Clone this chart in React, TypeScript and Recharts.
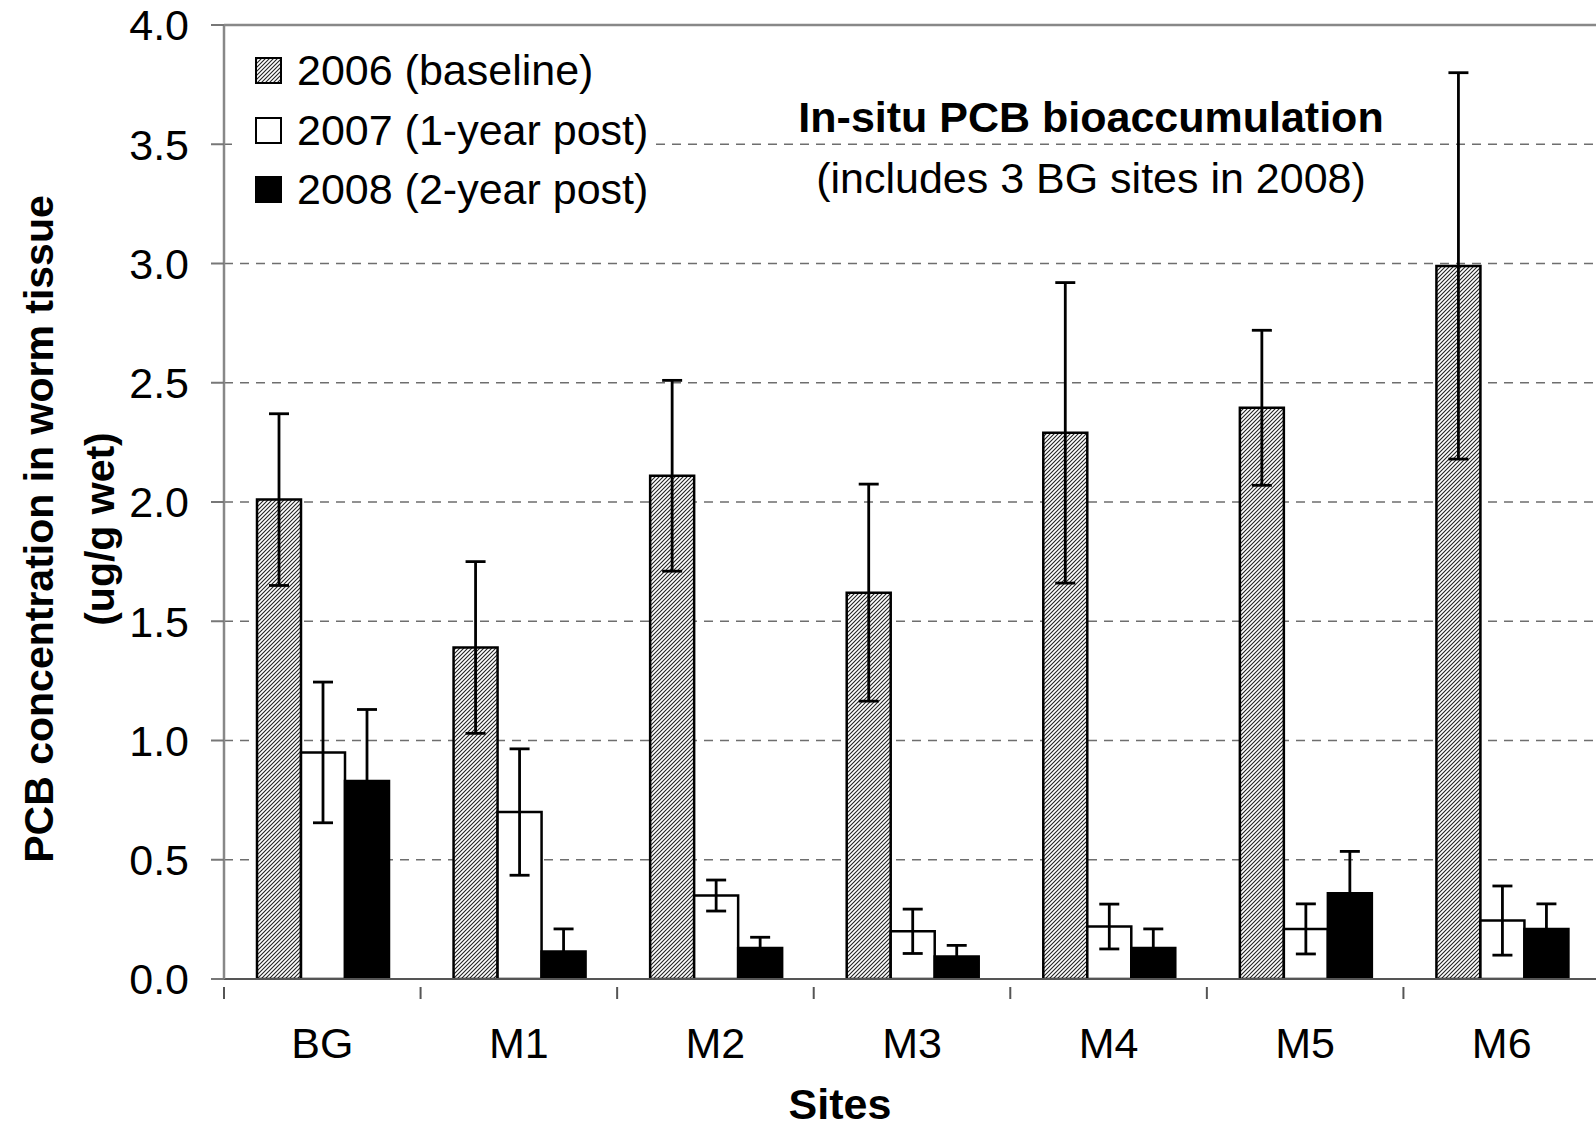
import { BarChart, Bar, XAxis, YAxis, CartesianGrid, ErrorBar, ReferenceLine } from 'recharts';

const sites = ['BG', 'M1', 'M2', 'M3', 'M4', 'M5', 'M6'];
const mean2006 = [2.01, 1.39, 2.11, 1.62, 2.29, 2.395, 2.99];
const err2006 = [0.36, 0.36, 0.40, 0.455, 0.63, 0.325, 0.81];
const mean2007 = [0.95, 0.70, 0.35, 0.20, 0.22, 0.21, 0.245];
const err2007 = [0.295, 0.265, 0.065, 0.093, 0.094, 0.105, 0.145];
const mean2008 = [0.83, 0.115, 0.13, 0.094, 0.13, 0.36, 0.21];
const err2008 = [0.30, 0.095, 0.045, 0.047, 0.08, 0.175, 0.105];
const yTicks = [0, 0.5, 1, 1.5, 2, 2.5, 3, 3.5, 4];

const legendItems = [
  { label: '2006 (baseline)', fill: 'url(#hatch)' },
  { label: '2007 (1-year post)', fill: '#ffffff' },
  { label: '2008 (2-year post)', fill: '#000000' },
];

const data = sites.map((site, i) => ({
  site,
  y2006: mean2006[i],
  e2006: err2006[i],
  y2007: mean2007[i],
  e2007: err2007[i],
  y2008: mean2008[i],
  e2008: err2008[i],
}));

const FONT = '"Liberation Sans", Arial, sans-serif';
const CHART_W = 1600;
const AXIS_W = 224;
const BAND = (CHART_W - AXIS_W) / sites.length;

function SiteTick(props: any) {
  const { x, y, payload, index } = props;
  const left = x - BAND / 2;
  return (
    <g>
      <line x1={left} y1={y} x2={left} y2={y + 12} stroke="#555" strokeWidth={2} />
      {index === sites.length - 1 && (
        <line x1={x + BAND / 2} y1={y} x2={x + BAND / 2} y2={y + 12} stroke="#555" strokeWidth={2} />
      )}
      <text x={x} y={y + 56} textAnchor="middle" dominantBaseline="central" fontSize={43} fontFamily={FONT} fill="#000">
        {payload.value}
      </text>
    </g>
  );
}

function YLabel() {
  return (
    <g fontFamily={FONT} fontWeight="bold" fontSize={41} fill="#000">
      <text x={39} y={529} textAnchor="middle" dominantBaseline="central" transform="rotate(-90 39 529)">
        PCB concentration in worm tissue
      </text>
      <text x={100} y={529} textAnchor="middle" dominantBaseline="central" transform="rotate(-90 100 529)">
        (ug/g wet)
      </text>
    </g>
  );
}

function XLabel() {
  return (
    <text x={840} y={1104} textAnchor="middle" dominantBaseline="central" fontFamily={FONT} fontWeight="bold" fontSize={43} fill="#000">
      Sites
    </text>
  );
}

function Swatch({ fill }: { fill: string }) {
  return (
    <svg width={27} height={27} style={{ display: 'block' }}>
      <defs>
        <pattern id="hatchLegend" width="4" height="4" patternUnits="userSpaceOnUse">
          <rect width="4" height="4" fill="#fff" />
          <path d="M-1,1 l2,-2 M0,4 l4,-4 M3,5 l2,-2" stroke="#222" strokeWidth={1.1} />
        </pattern>
      </defs>
      <rect x={1} y={1} width={25} height={25} fill={fill === 'url(#hatch)' ? 'url(#hatchLegend)' : fill} stroke="#000" strokeWidth={2} />
    </svg>
  );
}

export default function App() {
  return (
    <div style={{ position: 'absolute', left: 0, top: 0, width: 1596, height: 1128, overflow: 'hidden', background: '#fff' }}>
      <BarChart
        width={CHART_W}
        height={1128}
        data={data}
        margin={{ top: 25, right: 0, left: 0, bottom: 0 }}
        barCategoryGap={33}
        barGap={0}
      >
        <defs>
          <pattern id="hatch" width="4" height="4" patternUnits="userSpaceOnUse">
            <rect width="4" height="4" fill="#fff" />
            <path d="M-1,1 l2,-2 M0,4 l4,-4 M3,5 l2,-2" stroke="#222" strokeWidth={1.1} />
          </pattern>
        </defs>
        <CartesianGrid vertical={false} stroke="#6e6e6e" strokeWidth={1.5} strokeDasharray="9 7" />
        <ReferenceLine y={4} stroke="#888" strokeWidth={2.5} />
        <XAxis
          dataKey="site"
          height={149}
          tickLine={false}
          axisLine={{ stroke: '#555', strokeWidth: 2 }}
          tick={<SiteTick />}
          interval={0}
        />
        <YAxis
          width={AXIS_W}
          domain={[0, 4]}
          ticks={yTicks}
          tickFormatter={(v: number) => v.toFixed(1)}
          tickSize={13}
          tickMargin={22}
          tickLine={{ stroke: '#777', strokeWidth: 2 }}
          axisLine={{ stroke: '#888', strokeWidth: 2.5 }}
          tick={{ fill: '#000', fontSize: 43, fontFamily: FONT }}
          allowDataOverflow
        />
        <Bar dataKey="y2006" fill="url(#hatch)" stroke="#000" strokeWidth={2.5} isAnimationActive={false}>
          <ErrorBar dataKey="e2006" direction="y" width={10} stroke="#000" strokeWidth={2.8} />
        </Bar>
        <Bar dataKey="y2007" fill="#fff" stroke="#000" strokeWidth={2.5} isAnimationActive={false}>
          <ErrorBar dataKey="e2007" direction="y" width={10} stroke="#000" strokeWidth={2.8} />
        </Bar>
        <Bar dataKey="y2008" fill="#000" stroke="#000" strokeWidth={2.5} isAnimationActive={false}>
          <ErrorBar dataKey="e2008" direction="y" width={10} stroke="#000" strokeWidth={2.8} />
        </Bar>
        <YLabel />
        <XLabel />
      </BarChart>

      <div style={{ position: 'absolute', left: 232, top: 41, paddingLeft: 23, paddingRight: 6, background: '#fff', fontFamily: FONT, fontSize: 43, color: '#000' }}>
        {legendItems.map((item) => (
          <div key={item.label} style={{ display: 'flex', alignItems: 'center', height: 59.5, whiteSpace: 'nowrap' }}>
            <Swatch fill={item.fill} />
            <span style={{ marginLeft: 15 }}>{item.label}</span>
          </div>
        ))}
      </div>

      <div style={{ position: 'absolute', left: 691, top: 87, width: 800, textAlign: 'center', fontFamily: FONT, fontSize: 43, color: '#000', lineHeight: '61px' }}>
        <div style={{ fontWeight: 'bold' }}>In-situ PCB bioaccumulation</div>
        <div>(includes 3 BG sites in 2008)</div>
      </div>
    </div>
  );
}
